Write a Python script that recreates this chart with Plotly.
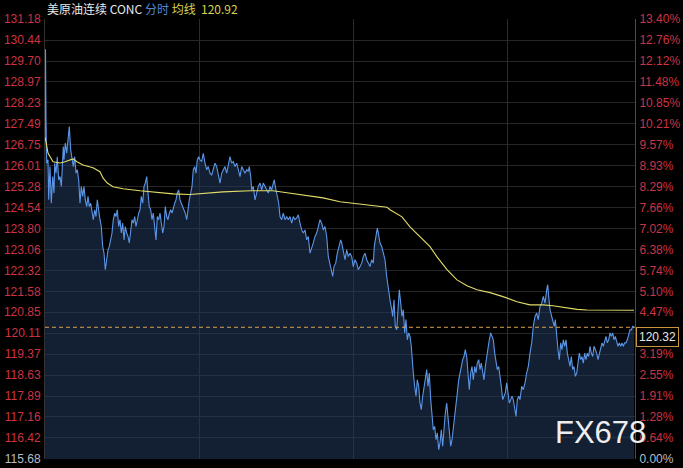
import plotly.graph_objects as go

# ---------------- data ----------------
y_tick_vals = [131.18, 130.44, 129.70, 128.97, 128.23, 127.49, 126.75, 126.01, 125.28, 124.54,
               123.80, 123.06, 122.32, 121.58, 120.85, 120.11, 119.37, 118.63, 117.89, 117.16,
               116.42, 115.68]
# the 3.83% label is hidden behind the last-price box in the reference
pct_labels = ["13.40%", "12.76%", "12.12%", "11.48%", "10.85%", "10.21%", "9.57%", "8.93%",
              "8.29%", "7.66%", "7.02%", "6.38%", "5.74%", "5.10%", "4.47%", "", "3.19%",
              "2.55%", "1.91%", "1.28%", "0.64%", "0.00%"]

last_price = 120.32
avg_last = 120.92

t_a = [0, 0.5, 1.0, 1.7, 3.0, 3.7, 5.0, 6.3, 7.7, 9.0, 9.7, 11.0, 12.3, 13.7, 15.0, 16.3, 17.0, 18.3, 19.0, 20.3,
       21.7, 23.0, 24.3, 25.7, 27.0, 28.3, 29.7, 31.0, 32.3, 33.7, 35.0, 36.3, 37.7, 39.0, 40.3, 41.7, 43.0, 44.3,
       45.7, 47.0, 48.3, 49.7, 51.0, 52.3, 53.7, 55.0, 56.3, 57.7, 59.0, 60.3, 61.7, 63.0, 64.3, 65.7, 67.0, 68.3,
       69.7, 71.0, 72.3, 73.7, 75.0, 76.3, 77.7, 79.0, 80.3, 81.7, 83.0, 84.3, 85.7, 87.0, 88.3, 89.7, 91.0, 92.3,
       93.7, 95.0, 96.3, 97.7, 99.0, 100.3, 101.7, 103.0, 104.3, 105.7, 107.0, 108.3, 109.7, 111.0, 112.3, 113.7,
       115.0, 116.3, 117.7, 119.0, 120.3, 121.7, 123.0, 124.3, 125.7, 127.0, 128.3, 129.7, 131.0, 132.3, 133.7,
       135.0, 136.3, 137.7, 139.0, 140.3, 141.7, 143.0, 144.3, 145.7, 147.0, 148.3, 149.7, 151.0, 152.3, 153.7, 155.0]
p_a = [127.04, 130.11, 127.63, 126.10, 126.22, 124.81, 125.98, 124.69, 125.63, 125.05, 126.10, 125.75, 126.33,
       125.51, 125.63, 125.28, 125.75, 126.69, 126.22, 126.81,
       126.45, 127.04, 127.39, 126.57, 126.22, 125.98, 126.33, 125.75, 125.87, 125.51,
       124.69, 125.28, 124.93, 125.28, 124.81, 124.57, 124.93, 124.57, 124.69, 124.34,
       124.11, 124.46, 124.22, 124.81, 124.34, 124.11, 123.87, 123.17, 122.93, 122.35,
       122.70, 123.05, 123.17, 123.40, 123.64, 124.11, 124.34, 124.22, 124.46, 123.87,
       124.11, 123.64, 123.99, 123.40, 123.87, 123.64, 123.52, 123.29, 123.87, 124.11,
       123.99, 124.22, 123.87, 124.11, 124.34, 124.46, 124.93, 124.69, 125.28, 125.40,
       125.63, 125.05, 124.57, 124.46, 124.11, 124.34, 123.87, 123.40, 124.22, 124.11,
       124.34, 123.99, 123.64, 123.87, 124.57, 124.22, 124.11, 124.34, 124.46, 124.34,
       124.57, 124.69, 124.81, 125.05, 125.16, 124.81, 124.69, 124.57, 124.46, 124.34,
       124.11, 124.57, 124.81, 125.05, 125.28, 125.87, 125.98, 125.75, 126.22, 126.33,
       126.22]

t_b = [156.7, 158.3, 160.0, 161.7, 163.3, 165.0, 166.7, 168.3, 170.0, 171.7, 173.3, 175.0, 176.7, 178.3, 180.0,
       181.7, 183.3, 185.0, 186.7, 188.3, 190.0, 191.7, 193.3, 195.0, 196.7, 198.3, 200.0, 201.7, 203.3, 204.3,
       205.7, 206.7, 208.3, 210.0, 211.7, 213.3, 215.0, 216.7, 218.3, 220.0, 221.7, 223.3, 225.0, 226.7, 228.3,
       229.3, 230.3, 231.7, 232.7, 233.7, 235.0, 236.7, 238.3, 240.0, 241.7, 243.3, 245.0, 246.7, 248.3, 250.0,
       251.7, 253.3, 255.0, 256.7, 258.3, 260.0, 261.7, 263.3, 265.0, 266.7, 268.3, 270.0, 271.7, 273.3, 275.0,
       276.7, 278.3, 280.0, 281.7, 283.3, 285.0, 286.7, 287.7, 289.0, 290.7, 292.3, 294.0, 295.7, 296.7, 298.3,
       300.0, 301.7, 303.3, 305.0, 306.7, 308.3, 310.0, 311.7, 313.3, 315.0, 316.7, 318.3, 320.0, 321.7, 323.3,
       325.0, 326.7, 328.3, 329.3, 330.7, 332.3, 333.3, 335.0, 336.7]
p_b = [126.16, 126.45, 126.10, 125.87, 125.98, 125.75, 125.69, 125.87, 126.10, 125.98, 125.75, 125.40, 125.75,
       125.87, 125.98, 125.75, 126.10, 126.33, 126.10, 126.16, 125.98, 126.10, 125.87, 125.63, 125.98, 125.87,
       125.75, 125.87, 125.81, 125.98, 125.63, 125.16, 125.28, 124.81, 125.05, 125.28, 125.40, 125.16, 125.40,
       125.28, 125.16, 125.05, 125.28, 125.16, 125.40, 125.51, 125.28, 125.05, 124.93, 124.69, 124.22, 124.11,
       124.34, 124.11, 124.22, 124.11, 124.22, 123.99, 124.22, 124.11, 124.17, 124.28, 123.99, 123.75, 123.64,
       123.75, 123.40, 123.52, 122.93, 123.17, 123.29, 123.52, 123.64, 123.87, 124.11, 123.99, 123.75, 123.87,
       123.52, 122.81, 122.58, 122.35, 122.11, 122.46, 122.58, 122.93, 123.17, 123.40, 123.29, 122.93, 122.70,
       123.05, 122.81, 122.93, 122.81, 122.46, 122.70, 122.58, 122.35, 122.46, 122.58, 122.81, 122.93, 122.70,
       122.58, 122.46, 122.70, 122.58, 123.17, 123.52, 123.81, 123.64, 123.29, 123.17]

t_c = [338.3, 340.0, 341.7, 343.3, 345.0, 346.7, 347.7, 349.0, 350.3, 351.7, 353.0, 354.3, 355.7, 357.0, 358.3,
       359.7, 361.0, 362.3, 363.7, 365.0, 366.3, 367.0, 368.3, 369.7, 371.0, 372.3, 373.7, 375.0, 376.3, 377.7,
       379.0, 380.3, 381.7, 383.0, 384.3, 385.7, 387.0, 388.3, 389.7, 391.0, 392.3, 393.7, 395.0, 396.3, 397.7,
       399.0, 400.3, 401.7, 403.0, 404.3, 405.7, 407.0, 408.3, 409.7, 411.0, 412.3, 413.7, 415.0, 416.3, 417.7,
       419.0, 420.3, 421.7, 423.0, 424.3, 425.7, 427.0, 428.3, 429.7, 431.0, 432.3, 433.7, 435.0, 436.3, 437.7,
       439.0, 440.3, 441.7, 443.0, 444.3, 445.7, 447.0, 448.3, 449.7, 451.0, 452.3, 453.7, 455.0, 456.3, 457.7,
       459.0, 460.3, 461.7, 463.0, 464.3, 465.7, 467.0, 468.3, 469.7, 471.0, 472.3, 473.7, 475.0]
p_c = [122.93, 122.70, 122.11, 121.64, 121.29, 120.94, 120.70, 121.29, 120.35, 120.23, 120.94, 121.64, 121.17,
       120.70, 120.94, 120.12, 120.59, 119.88, 120.12, 120.00, 119.65, 119.18, 118.71, 118.24, 117.89, 118.47,
       118.24, 117.65, 117.42, 117.89, 118.24, 118.47, 118.83, 118.24, 118.71, 117.77, 117.07, 116.71, 116.83,
       116.36, 116.60, 116.01, 116.25, 116.71, 116.13, 116.83, 117.30, 117.65, 117.07, 116.60, 116.13, 116.36,
       116.83, 117.30, 117.65, 118.01, 118.47, 118.71, 118.94, 119.18, 119.29, 119.53, 119.29, 118.71, 118.12,
       118.71, 118.94, 118.47, 118.94, 118.71, 119.06, 119.18, 118.83, 119.06, 118.71, 118.47, 118.94, 119.29,
       119.65, 119.88, 120.12, 120.00, 119.88, 119.41, 119.06, 118.83, 118.94, 118.47, 118.24, 117.77, 117.89,
       118.01, 118.36, 118.01, 117.65, 117.77, 117.89, 117.77, 117.53, 117.18, 117.77, 117.89, 117.77]

t_d = [476.7, 478.3, 480.0, 481.7, 483.3, 485.0, 486.7, 488.3, 490.0, 491.7, 493.3, 495.0, 496.7, 498.3, 500.0,
       501.7, 502.7, 503.7, 505.0, 506.7, 508.3, 509.3, 510.3, 511.7, 513.0, 514.3, 515.7, 517.0, 518.3, 519.7,
       521.0, 522.3, 523.7, 525.0, 526.3, 527.7, 529.0, 530.3, 531.7, 533.0, 534.3, 535.7, 537.0, 538.3, 539.7,
       541.0, 542.3, 543.7, 545.0, 546.3, 547.7, 549.0, 550.3, 551.7, 553.0, 554.3, 555.7, 557.0, 558.3, 559.7,
       561.0, 562.3, 563.7, 565.0, 566.3, 567.7, 569.0, 570.3, 571.7, 573.0, 574.3, 575.7, 577.0, 578.3, 579.7,
       581.0, 582.3, 583.7, 585.0, 586.3, 587.7, 589.0]
p_d = [118.24, 118.12, 118.36, 118.71, 118.94, 119.41, 119.77, 120.35, 120.70, 120.82, 120.59, 121.05, 121.17,
       121.41, 121.17, 121.64, 121.82, 121.41, 120.94, 120.70, 120.47, 120.35, 120.59, 119.88, 119.53, 119.18,
       119.77, 119.53, 119.88, 119.65, 119.88, 119.41, 119.18, 118.94, 119.29, 118.83, 118.94, 118.59, 118.71,
       119.06, 119.41, 119.18, 119.29, 119.06, 119.41, 119.18, 119.41, 119.29, 119.65, 119.41, 119.29, 119.65,
       119.53, 119.41, 119.18, 119.41, 119.65, 119.77, 119.65, 119.88, 120.00, 119.77, 119.88, 120.12, 120.00,
       120.12, 119.88, 120.00, 119.77, 119.65, 119.77, 119.65, 119.77, 119.65, 119.77, 119.77, 119.88, 120.12,
       120.23, 120.23, 120.35, 120.32]

t_avg = [0, 1.7, 3, 8, 15, 20, 25, 28, 32, 38, 48, 55, 58, 62, 68, 78, 95, 112, 128, 145, 162, 178, 205, 228,
         242, 262, 278, 295, 312, 328, 342, 345, 357, 365, 375, 385, 392, 402, 412, 422, 432, 445, 458, 472,
         485, 498, 508, 515, 525, 532, 542, 589]
p_avg = [127.04, 126.68, 126.46, 126.15, 126.11, 126.15, 126.22, 126.25, 126.15, 126.04, 125.94, 125.80,
         125.58, 125.41, 125.27, 125.20, 125.13, 125.06, 125.02, 125.00, 125.06, 125.09, 125.13, 125.13,
         125.06, 124.95, 124.88, 124.74, 124.67, 124.60, 124.55, 124.46, 124.21, 123.86, 123.51, 123.16,
         122.80, 122.35, 121.99, 121.78, 121.64, 121.54, 121.40, 121.22, 121.11, 121.11, 121.08, 121.04,
         121.00, 120.95, 120.93, 120.92]

for a, b in ((t_a, p_a), (t_b, p_b), (t_c, p_c), (t_d, p_d), (t_avg, p_avg)):
    assert len(a) == len(b), (len(a), len(b))

t_all = t_a + t_b + t_c + t_d
p_all = p_a + p_b + p_c + p_d

# ---------------- figure ----------------
RED = "#cc3344"
GREY = "#b8bec6"
left_text = [f"<span style='color:{GREY}'>{v:.2f}</span>" if i == len(y_tick_vals) - 1 else f"{v:.2f}"
             for i, v in enumerate(y_tick_vals)]
right_text = [f"<span style='color:{GREY}'>{s}</span>" if i == len(pct_labels) - 1 else s
              for i, s in enumerate(pct_labels)]

fig = go.Figure()
fig.add_trace(go.Scatter(x=t_all, y=p_all, mode="lines",
                         line=dict(color="#5b96e6", width=1.1),
                         fill="tozeroy", fillcolor="rgba(34,56,92,0.55)",
                         hoverinfo="skip", showlegend=False))
fig.add_trace(go.Scatter(x=t_avg, y=p_avg, mode="lines",
                         line=dict(color="#e2dc6a", width=1.1),
                         hoverinfo="skip", showlegend=False))
fig.add_trace(go.Scatter(x=t_all, y=p_all, mode="lines", yaxis="y2",
                         line=dict(width=0), opacity=0, hoverinfo="skip", showlegend=False))

yr = [115.68, 131.18]
fig.update_layout(
    width=683, height=468,
    margin=dict(l=45, r=48, t=19, b=9, autoexpand=False),
    paper_bgcolor="#000000", plot_bgcolor="#000000",
    font=dict(family="Liberation Sans, Arial", size=12, color=RED),
    xaxis=dict(range=[0, 590], showticklabels=False, tickvals=[154, 308, 462],
               showgrid=True, gridcolor="#2c2c2c", gridwidth=1, zeroline=False, showline=False,
               ticks="", automargin=False),
    yaxis=dict(range=yr, tickvals=y_tick_vals, ticktext=left_text, showgrid=True,
               gridcolor="#262626", gridwidth=1, zeroline=False, showline=True,
               linecolor="#333333", ticks="", ticklabelstandoff=1, automargin=False,
               tickfont=dict(family="Liberation Sans, Arial", size=12, color=RED)),
    yaxis2=dict(range=yr, overlaying="y", side="right", tickvals=y_tick_vals, ticktext=right_text,
                showgrid=False, zeroline=False, showline=True, linecolor="#4a4a4a", ticks="",
                ticklabelstandoff=1, automargin=False,
                tickfont=dict(family="Liberation Sans, Arial", size=12, color=RED)),
    showlegend=False,
)

fig.add_shape(type="line", xref="paper", x0=0, x1=1, yref="y", y0=last_price, y1=last_price,
              line=dict(color="#dba24c", width=1, dash="4px,3px"))

fig.add_annotation(xref="paper", yref="y", x=1, y=last_price, xanchor="left", yanchor="top",
                   xshift=1, text=f"{last_price:.2f}", showarrow=False,
                   font=dict(family="Liberation Sans, Arial", size=12, color="#e6e6e6"),
                   bordercolor="#c8963c", borderwidth=1, borderpad=2, bgcolor="#000000")

title_html = ("<span style='color:#e8e8e8'>美原油连续 CONC</span> "
              "<span style='color:#4f86d6'>分时</span> "
              f"<span style='color:#d8d250'>均线  {avg_last:.2f}</span>")
fig.add_annotation(xref="paper", yref="paper", x=0, y=1.025, xanchor="left", yanchor="middle",
                   text=title_html, showarrow=False,
                   font=dict(family="Noto Sans CJK SC, Liberation Sans", size=12))

fig.add_annotation(xref="paper", yref="paper", x=0.942, y=0.061, xanchor="center", yanchor="middle",
                   text="FX678", showarrow=False,
                   font=dict(family="Liberation Sans, Arial", size=31, color="#eeeeee"))

fig.write_html("out.html", config={"displayModeBar": False},
               post_script="document.body.style.margin='0';document.body.style.background='#000';")
